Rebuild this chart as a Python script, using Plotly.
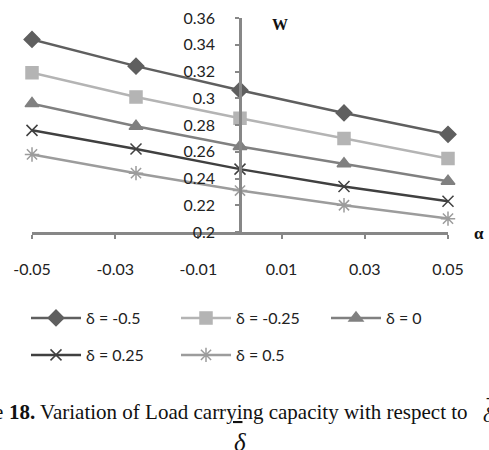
import plotly.graph_objects as go

# Load carrying capacity W versus alpha, one curve per delta
alpha = [-0.05, -0.025, 0.0, 0.025, 0.05]
w_d_m050 = [0.344, 0.324, 0.306, 0.289, 0.273]
w_d_m025 = [0.319, 0.301, 0.285, 0.270, 0.255]
w_d_000 = [0.296, 0.279, 0.264, 0.251, 0.238]
w_d_025 = [0.276, 0.262, 0.247, 0.234, 0.223]
w_d_050 = [0.258, 0.244, 0.231, 0.220, 0.210]

series_names = ["δ = -0.5", "δ = -0.25", "δ = 0", "δ = 0.25", "δ = 0.5"]
x_tick_vals = [-0.05, -0.03, -0.01, 0.01, 0.03, 0.05]
x_tick_text = ["-0.05", "-0.03", "-0.01", "0.01", "0.03", "0.05"]
y_tick_vals = [0.2, 0.22, 0.24, 0.26, 0.28, 0.3, 0.32, 0.34, 0.36]
y_tick_text = ["0.2", "0.22", "0.24", "0.26", "0.28", "0.3", "0.32", "0.34", "0.36"]

W, H = 489, 450
L, R, T, B = 32, 41, 18, 218
PW, PH = W - L - R, H - T - B


def px(xp):
    return (xp - L) / PW


def py(yp):
    return (H - B - yp) / PH


styles = [
    dict(color="#5f5f5f", symbol="diamond", size=12, legend="legend"),
    dict(color="#b4b4b4", symbol="square", size=12, legend="legend"),
    dict(color="#808080", symbol="triangle-up", size=12, legend="legend"),
    dict(color="#404040", symbol="x-thin", size=11, legend="legend2"),
    dict(color="#9c9c9c", symbol="asterisk", size=12, legend="legend2"),
]
values = [w_d_m050, w_d_m025, w_d_000, w_d_025, w_d_050]

fig = go.Figure()
for name, ys, st in zip(series_names, values, styles):
    fig.add_trace(go.Scatter(
        x=alpha, y=ys, name=name, mode="lines+markers",
        line=dict(color=st["color"], width=2.5),
        marker=dict(symbol=st["symbol"], size=st["size"], color=st["color"],
                    line=dict(color=st["color"], width=1.5)),
        cliponaxis=False, legend=st["legend"],
    ))

axis_color = "#878787"
tick_font = dict(family="Lato, Open Sans, sans-serif", size=16, color="#222222")
legend_font = dict(family="Lato, Open Sans, sans-serif", size=16, color="#222222")

legend_common = dict(
    orientation="h", xanchor="left", yanchor="middle",
    entrywidth=85, entrywidthmode="pixels", itemwidth=50,
    font=legend_font, bgcolor="rgba(0,0,0,0)", tracegroupgap=0,
)

fig.update_layout(
    width=W, height=H,
    margin=dict(l=L, r=R, t=T, b=B, pad=0, autoexpand=False),
    paper_bgcolor="white", plot_bgcolor="white",
    xaxis=dict(
        range=[-0.05, 0.05], tickvals=x_tick_vals, ticktext=x_tick_text,
        showgrid=False, zeroline=False, showline=True,
        linecolor=axis_color, linewidth=2.5,
        ticks="outside", ticklen=4, tickwidth=2, tickcolor=axis_color,
        ticklabelstandoff=17, tickfont=tick_font,
    ),
    yaxis=dict(
        range=[0.2, 0.36], tickvals=y_tick_vals, ticktext=y_tick_text,
        anchor="free", position=0.5,
        showgrid=False, zeroline=False, showline=True,
        linecolor=axis_color, linewidth=2.5,
        ticks="outside", ticklen=4, tickwidth=2, tickcolor=axis_color,
        ticklabelstandoff=17, tickfont=tick_font,
    ),
    legend=dict(x=px(26), y=py(318), **legend_common),
    legend2=dict(x=px(26), y=py(355), **legend_common),
    showlegend=True,
)

serif = "Liberation Serif, Times New Roman, serif"
ink = "#111111"


def label(xp, yp, text, size, xanchor="center"):
    fig.add_annotation(x=px(xp), y=py(yp), xref="paper", yref="paper", text=text,
                       xanchor=xanchor, yanchor="middle", showarrow=False,
                       font=dict(family=serif, size=size, color=ink))


label(280, 25, "<b>W</b>", 16)
label(479, 234, "<b>α</b>", 17)

caption = ("<b>18.</b> Variation of Load carr<span style='text-decoration:underline'>yi</span>ng "
           "capacity with respect to")
label(7, 412, caption, 21, xanchor="left")
label(-8, 412, "e", 21, xanchor="left")
label(481, 414, "<i>δ</i>", 22, xanchor="left")
label(484, 397, "-", 16, xanchor="left")
label(240, 442, "<i>δ</i>", 25)

fig.write_html("out.html")
